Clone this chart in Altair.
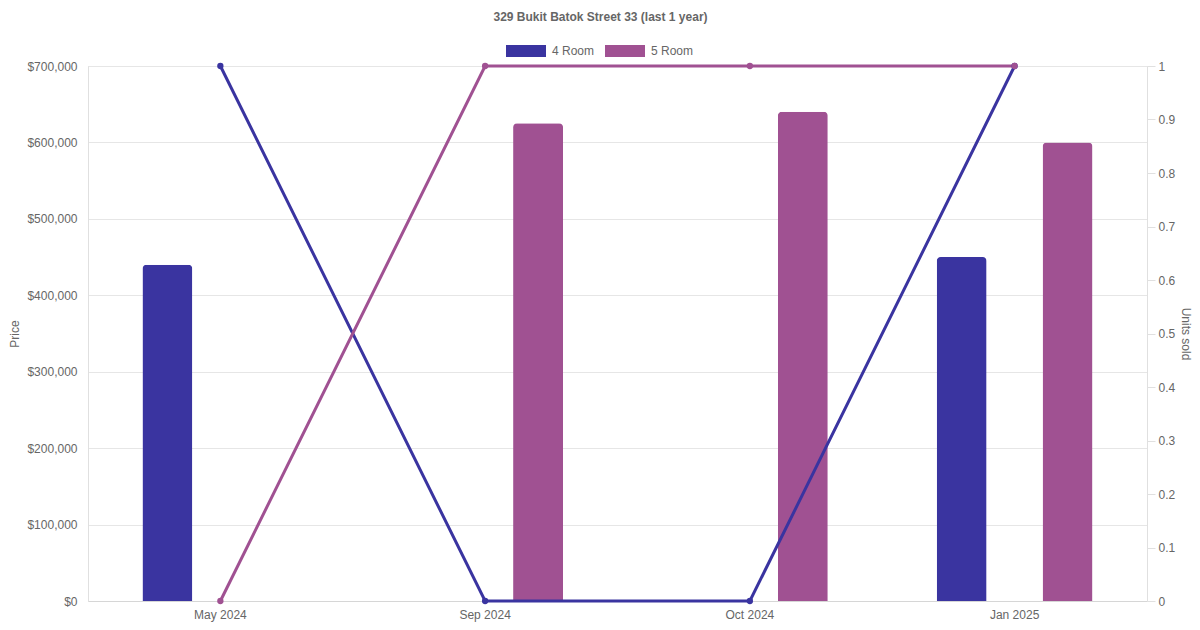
import altair as alt
import pandas as pd

months = ["May 2024", "Sep 2024", "Oct 2024", "Jan 2025"]
room_types = ["4 Room", "5 Room"]
colors = ["#3A34A0", "#A05192"]

price_4room = [440000, None, None, 450000]
price_5room = [None, 625000, 640000, 600000]
units_4room = [1, 0, 0, 1]
units_5room = [0, 1, 1, 1]

price_rows = []
for m, p4, p5 in zip(months, price_4room, price_5room):
    if p4 is not None:
        price_rows.append({"month": m, "type": "4 Room", "price": p4})
    if p5 is not None:
        price_rows.append({"month": m, "type": "5 Room", "price": p5})
price_df = pd.DataFrame(price_rows)

unit_rows = []
for m, u4, u5 in zip(months, units_4room, units_5room):
    unit_rows.append({"month": m, "type": "4 Room", "units": u4})
    unit_rows.append({"month": m, "type": "5 Room", "units": u5})
unit_df = pd.DataFrame(unit_rows)

FONT = "Liberation Sans"
GREY = "#666666"

x_enc = alt.X(
    "month:N",
    sort=months,
    scale=alt.Scale(domain=months, paddingInner=0, paddingOuter=0),
    axis=alt.Axis(
        title=None, labelAngle=0, ticks=False, grid=False, labelPadding=8,
        domainColor="#d6d6d6", labelColor=GREY, labelFontSize=12, labelFont=FONT,
    ),
)

color_scale = alt.Scale(domain=room_types, range=colors)

bars = alt.Chart(price_df).mark_bar(
    width=50, cornerRadiusTopLeft=4, cornerRadiusTopRight=4
).encode(
    x=x_enc,
    xOffset=alt.XOffset(
        "type:N",
        scale=alt.Scale(domain=room_types, paddingInner=0, paddingOuter=0.25),
    ),
    y=alt.Y(
        "price:Q",
        scale=alt.Scale(domain=[0, 700000], nice=False),
        axis=alt.Axis(
            title="Price", values=list(range(0, 700001, 100000)), format="$,.0f",
            ticks=False, labelPadding=11, grid=True, gridColor="#e6e6e6",
            domainColor="#e0e0e0", labelColor=GREY, labelFontSize=12, labelFont=FONT,
            titleColor=GREY, titleFontSize=12, titleFont=FONT, titleFontWeight="normal",
            titlePadding=5,
        ),
    ),
    color=alt.Color(
        "type:N",
        scale=color_scale,
        legend=alt.Legend(
            title=None, orient="none", direction="horizontal",
            legendX=418, legendY=-35,
            symbolType="M-1,-0.3H1V0.3H-1Z", symbolSize=1600,
            symbolStrokeWidth=0, symbolOpacity=1,
            labelOffset=6, columnPadding=10,
            labelColor=GREY, labelFontSize=12, labelFont=FONT,
        ),
    ),
)

lines = alt.Chart(unit_df).mark_line(
    strokeWidth=3,
    point=alt.OverlayMarkDef(filled=True, size=40, opacity=1),
).encode(
    x=alt.X("month:N", sort=months),
    y=alt.Y(
        "units:Q",
        scale=alt.Scale(domain=[0, 1], nice=False),
        axis=alt.Axis(
            title="Units sold", orient="right", values=[i / 10 for i in range(11)],
            format="~g", grid=False, tickSize=8, tickColor="#e0e0e0", labelPadding=3,
            domainColor="#e0e0e0", labelColor=GREY, labelFontSize=12, labelFont=FONT,
            titleColor=GREY, titleFontSize=12, titleFont=FONT, titleFontWeight="normal",
            titlePadding=4,
        ),
    ),
    color=alt.Color("type:N", scale=color_scale, legend=None),
    detail="type:N",
)

chart = alt.layer(bars, lines).resolve_scale(y="independent").properties(
    width=1059,
    height=535,
    title=alt.TitleParams(
        "329 Bukit Batok Street 33 (last 1 year)",
        fontSize=12, font=FONT, fontWeight="bold", color=GREY,
        anchor="middle", offset=7, dx=-17,
    ),
    autosize=alt.AutoSizeParams(type="none"),
    padding={"left": 80, "top": 58, "right": 45, "bottom": 21},
).configure_view(stroke=None).configure(background="white")

chart.save("out.html", embed_options={"renderer": "svg", "actions": False})
